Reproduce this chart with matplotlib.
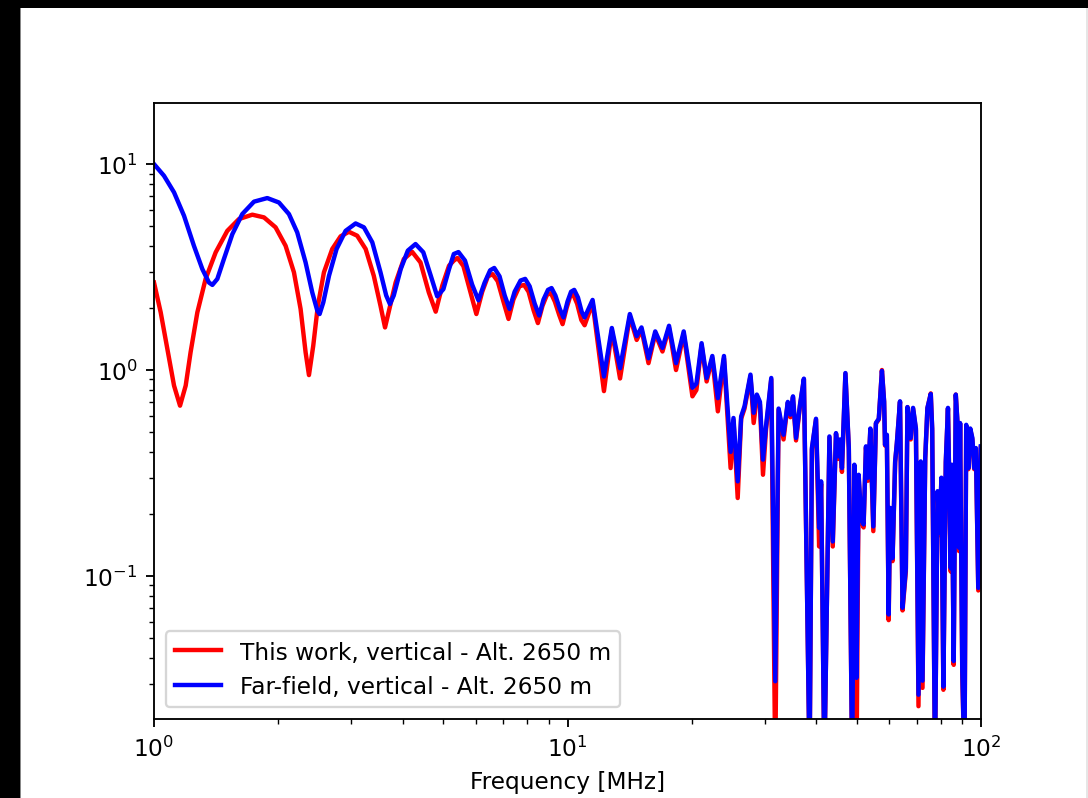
import matplotlib
matplotlib.use("Agg")
import matplotlib.pyplot as plt
from matplotlib.patches import Rectangle

# ---- data ----
red_lo_freq = [1.0, 1.038, 1.077, 1.118, 1.156, 1.193, 1.226, 1.273, 1.333, 1.41, 1.504,
               1.605, 1.729, 1.845, 1.968, 2.081, 2.18, 2.262, 2.326, 2.37, 2.427, 2.49,
               2.576, 2.698, 2.827, 2.96, 3.10, 3.25, 3.40, 3.53, 3.62, 3.71, 3.84, 4.02,
               4.21, 4.41, 4.62, 4.80, 4.98, 5.17, 5.31, 5.42, 5.6, 5.82, 6.02, 6.22,
               6.42, 6.59, 6.78, 7.0, 7.20, 7.4, 7.65, 7.85, 8.05, 8.28, 8.48, 8.7,
               8.92, 9.12, 9.32, 9.55, 9.73, 9.95, 10.15, 10.33, 10.55, 10.8]
red_lo = [2.66, 1.905, 1.265, 0.84, 0.671, 0.84, 1.22, 1.905, 2.77, 3.73, 4.74,
          5.41, 5.68, 5.51, 4.93, 4.01, 2.98, 1.98, 1.22, 0.945, 1.31, 2.05,
          2.98, 3.87, 4.46, 4.69, 4.49, 3.87, 2.87, 2.05, 1.61, 1.98, 2.66, 3.46,
          3.75, 3.33, 2.38, 1.92, 2.57, 3.21, 3.40, 3.50, 3.2, 2.4, 1.87, 2.4,
          2.85, 2.92, 2.7, 2.15, 1.77, 2.2, 2.55, 2.59, 2.4, 1.95, 1.69, 2.05,
          2.32, 2.36, 2.15, 1.85, 1.67, 2.0, 2.28, 2.32, 2.1, 1.75]

blue_lo_freq = [1.0, 1.057, 1.118, 1.182, 1.249, 1.309, 1.358, 1.384, 1.423, 1.476, 1.547,
                1.635, 1.745, 1.879, 2.005, 2.12, 2.22, 2.326, 2.414, 2.483, 2.515, 2.567,
                2.65, 2.764, 2.906, 3.073, 3.219, 3.372, 3.53, 3.644, 3.72, 3.80, 3.95,
                4.11, 4.29, 4.48, 4.67, 4.84, 5.01, 5.17, 5.31, 5.45, 5.65, 5.88, 6.09,
                6.3, 6.5, 6.65, 6.85, 7.05, 7.24, 7.45, 7.7, 7.90, 8.1, 8.33, 8.54,
                8.75, 8.97, 9.15, 9.35, 9.58, 9.78, 10.0, 10.2, 10.38, 10.6, 10.82]
blue_lo = [10.0, 8.78, 7.29, 5.61, 4.01, 3.09, 2.66, 2.59, 2.77, 3.46, 4.57,
           5.72, 6.57, 6.84, 6.51, 5.72, 4.66, 3.33, 2.38, 1.94, 1.87, 2.13,
           2.87, 3.87, 4.74, 5.15, 4.93, 4.17, 2.98, 2.30, 2.09, 2.30, 3.09,
           3.80, 4.09, 3.73, 2.87, 2.28, 2.47, 3.09, 3.66, 3.74, 3.4, 2.6, 2.18,
           2.65, 3.05, 3.13, 2.85, 2.3, 1.98, 2.4, 2.72, 2.77, 2.55, 2.1, 1.84,
           2.2, 2.45, 2.50, 2.3, 1.98, 1.80, 2.15, 2.40, 2.45, 2.25, 1.92]

hi_freq = [11.0, 11.5, 12.25, 12.8, 13.4, 14.15, 14.7, 15.1, 15.7, 16.3, 16.97, 17.6,
           18.3, 19.1, 20.05, 20.5, 21.1, 21.7, 22.4, 23.1, 23.9, 24.8, 25.2, 25.8,
           26.3, 26.8, 27.7, 28.2, 28.7, 29.2, 29.7, 30.2, 31.1, 31.8, 32.4, 33.3,
           34.1, 34.6, 35.1, 35.7, 36.5, 37.3, 38.5, 39.0, 39.9, 40.6, 41.05, 41.8,
           43.0, 43.8, 44.6, 45.2, 45.6, 46.1, 47.0, 47.9, 48.8, 49.4, 50.0, 50.6,
           51.3, 52.0, 52.7, 53.3, 54.0, 54.9, 55.7, 56.6, 57.6, 58.3, 58.6, 59.2,
           59.8, 60.3, 61.1, 62.0, 62.6, 63.7, 64.6, 65.8, 66.4, 67.6, 68.5, 69.6,
           70.6, 71.5, 72.2, 73.3, 74.2, 75.6, 76.2, 77.4, 78.5, 79.5, 80.2, 81.1,
           82.2, 83.2, 84.5, 85.0, 85.9, 86.9, 87.8, 88.5, 89.0, 90.1, 91.2, 92.1,
           93.2, 94.2, 95.3, 96.3, 97.2, 98.5, 99.9]
blue_hi = [1.80, 2.19, 0.93, 1.60, 1.02, 1.87, 1.46, 1.61, 1.14, 1.54, 1.28, 1.64,
           1.08, 1.54, 0.82, 0.86, 1.35, 0.915, 1.17, 0.73, 1.17, 0.40, 0.585, 0.288,
           0.595, 0.667, 0.95, 0.62, 0.76, 0.70, 0.367, 0.533, 0.915, 0.0308, 0.65, 0.485,
           0.70, 0.607, 0.745, 0.468, 0.68, 0.908, 0.012, 0.418, 0.58, 0.171, 0.288, 0.012,
           0.476, 0.147, 0.494, 0.381, 0.46, 0.334, 0.967, 0.418, 0.012, 0.347, 0.032, 0.31,
           0.19, 0.178, 0.426, 0.30, 0.52, 0.174, 0.553, 0.58, 0.99, 0.705, 0.434, 0.485,
           0.065, 0.214, 0.122, 0.36, 0.443, 0.705, 0.070, 0.109, 0.661, 0.468, 0.655, 0.52,
           0.0265, 0.36, 0.031, 0.375, 0.655, 0.765, 0.52, 0.012, 0.258, 0.162, 0.30, 0.029,
           0.36, 0.655, 0.109, 0.347, 0.0386, 0.76, 0.542, 0.137, 0.553, 0.0345, 0.012, 0.542,
           0.334, 0.52, 0.468, 0.334, 0.418, 0.0875, 0.426]
red_hi = [1.65, 2.12, 0.79, 1.56, 0.91, 1.82, 1.40, 1.57, 1.08, 1.50, 1.23, 1.60,
          1.00, 1.50, 0.745, 0.80, 1.32, 0.88, 1.14, 0.63, 1.14, 0.334, 0.57, 0.239,
          0.58, 0.65, 0.93, 0.553, 0.74, 0.68, 0.31, 0.51, 0.90, 0.012, 0.64, 0.46,
          0.69, 0.59, 0.735, 0.455, 0.67, 0.90, 0.012, 0.41, 0.575, 0.139, 0.28, 0.012,
          0.47, 0.139, 0.49, 0.37, 0.455, 0.32, 0.96, 0.41, 0.012, 0.34, 0.012, 0.30,
          0.185, 0.172, 0.42, 0.29, 0.51, 0.165, 0.55, 0.575, 1.00, 0.70, 0.43, 0.48,
          0.061, 0.21, 0.118, 0.355, 0.44, 0.70, 0.068, 0.105, 0.66, 0.46, 0.65, 0.51,
          0.0233, 0.355, 0.0286, 0.37, 0.65, 0.77, 0.51, 0.012, 0.25, 0.158, 0.295, 0.028,
          0.355, 0.65, 0.105, 0.34, 0.037, 0.76, 0.535, 0.132, 0.55, 0.033, 0.012, 0.535,
          0.33, 0.515, 0.46, 0.33, 0.41, 0.085, 0.42]

label_red = "This work, vertical - Alt. 2650 m"
label_blue = "Far-field, vertical - Alt. 2650 m"
xlabel = "Frequency [MHz]"

# ---- figure ----
DPI = 167
W, H = 1088, 799
fig = plt.figure(figsize=(W / DPI, H / DPI), dpi=DPI, facecolor="white")

# screenshot borders
fig.patches.append(Rectangle((0, 1 - 9 / H), 1, 9 / H, transform=fig.transFigure,
                             facecolor="black", edgecolor="none", zorder=10))
fig.patches.append(Rectangle((0, 0), 20 / W, 1, transform=fig.transFigure,
                             facecolor="black", edgecolor="none", zorder=10))
fig.patches.append(Rectangle((20 / W, 0), 1.2 / W, 1 - 9 / H, transform=fig.transFigure,
                             facecolor="#888888", edgecolor="none", zorder=10))
fig.patches.append(Rectangle((1 - 2.5 / W, 0), 2.5 / W, 1 - 9 / H, transform=fig.transFigure,
                             facecolor="#e6e6e6", edgecolor="none", zorder=10))

left, right, top, bottom = 154, 981, 104, 720
ax = fig.add_axes([left / W, 1 - bottom / H, (right - left) / W, (bottom - top) / H])

ax.plot(red_lo_freq + hi_freq, red_lo + red_hi, color="red", lw=1.9, label=label_red)
ax.plot(blue_lo_freq + hi_freq, blue_lo + blue_hi, color="blue", lw=1.9, label=label_blue)

ax.set_xscale("log")
ax.set_yscale("log")
ax.set_xlim(1, 100)
ax.set_ylim(0.0202, 19.8)
ax.set_xlabel(xlabel)
ax.legend(loc="lower left")

fig.savefig("out.png", dpi=DPI, facecolor="white")
